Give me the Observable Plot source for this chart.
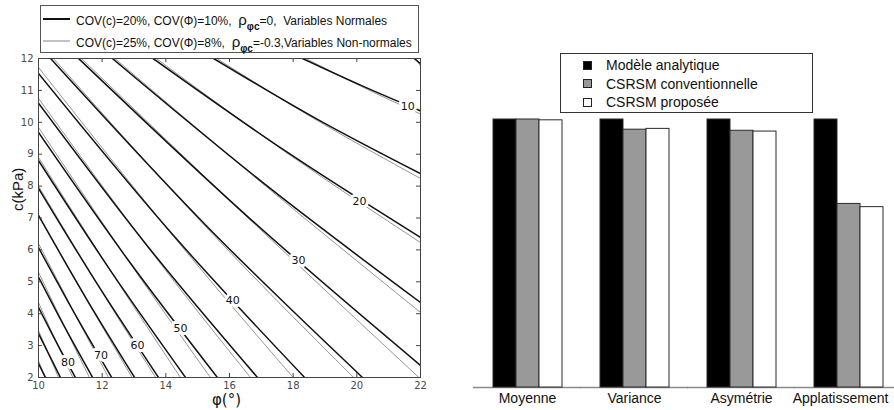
<!DOCTYPE html>
<html><head><meta charset="utf-8">
<script src="https://cdn.jsdelivr.net/npm/d3@7"></script>
<script src="https://cdn.jsdelivr.net/npm/@observablehq/plot@0.6"></script>
<style>
body{margin:0;background:#fff;}
#wrap{position:relative;width:894px;height:410px;overflow:hidden;background:#fff;font-family:"Liberation Sans",Arial,sans-serif;}
#left{position:absolute;left:0;top:0;}
#right{position:absolute;left:440px;top:0;}
.legL{position:absolute;left:40px;top:5px;width:377px;height:46px;border:1px solid #555;background:#fff;}
.legL .row{position:absolute;left:0;height:20px;display:flex;align-items:center;white-space:pre;font-size:12px;color:#111;}
.legL .samp{width:35px;height:20px;}
.rho{font-size:15px;}
.sub{font-size:10px;font-weight:bold;position:relative;top:5px;color:#111;}
.legR{position:absolute;left:560px;top:53px;width:251px;height:58px;border:1px solid #333;background:#fff;}
.legR .row{position:absolute;left:22px;height:18px;display:flex;align-items:center;font-size:14px;color:#111;white-space:pre;}
.legR .sw{width:7px;height:7px;border:1px solid #222;margin-right:14px;}
</style></head>
<body>
<div id="wrap">
  <div id="left"></div>
  <div id="right"></div>
  <div class="legL">
    <div class="row" style="top:3px"><svg class="samp"><line x1="2" x2="29" y1="10" y2="10" stroke="#111" stroke-width="2"/></svg><span>COV(c)=20%, COV(Φ)=10%,  <span class="rho">ρ</span><span class="sub">φc</span>=0,  Variables Normales</span></div>
    <div class="row" style="top:25px"><svg class="samp"><line x1="2" x2="29" y1="10" y2="10" stroke="#777" stroke-width="0.9"/></svg><span>COV(c)=25%, COV(Φ)=8%,  <span class="rho">ρ</span><span class="sub">φc</span>=-0.3,Variables Non-normales</span></div>
  </div>
  <div class="legR" id="legR"></div>
</div>
<script>
// ---------- Left panel data ----------
const phiTicks = [10, 12, 14, 16, 18, 20, 22];
const cTicks = [2, 3, 4, 5, 6, 7, 8, 9, 10, 11, 12];
const contourLevels = [5, 10, 15, 20, 25, 30, 35, 40, 45, 50, 55, 60, 65, 70, 75, 80, 85, 90];
// [phi, c] points (thick black: normal variables)
const normales = [
  [[21.8, 12], [22, 11.84]],
  [[18.29, 12], [20.15, 11.15], [22, 10.36]],
  [[15.5, 12], [18.75, 10.1], [22, 8.39]],
  [[13.6, 12], [17.8, 9.07], [22, 6.39]],
  [[12.32, 12], [17.16, 8.02], [22, 4.35]],
  [[11.26, 12], [16.63, 6.99], [22, 2.38]],
  [[10.38, 12], [15.28, 6.75], [20.18, 2]],
  [[10, 11.53], [14.18, 6.52], [18.36, 2]],
  [[10, 10.6], [13.44, 6.1], [16.88, 2]],
  [[10, 9.68], [12.81, 5.69], [15.62, 2]],
  [[10, 8.8], [12.31, 5.28], [14.62, 2]],
  [[10, 7.93], [11.885, 4.87], [13.77, 2]],
  [[10, 7.08], [11.51, 4.46], [13.02, 2]],
  [[10, 6.07], [11.15, 3.98], [12.3, 2]],
  [[10, 5.15], [10.85, 3.53], [11.7, 2]],
  [[10, 4.2], [10.58, 3.07], [11.16, 2]],
  [[10, 3.38], [10.69, 2]],
  [[10, 2.44], [10.22, 2]]
];
// thin grey: non-normal variables
const nonNormales = [
  [[21.85, 12], [22, 11.76]],
  [[18.4, 12], [20.15, 11.12], [22, 10.26]],
  [[15.6, 12], [18.75, 10.06], [22, 8.24]],
  [[13.7, 12], [17.8, 9.04], [22, 6.23]],
  [[12.4, 12], [17.16, 7.98], [22, 4.04]],
  [[11.35, 12], [16.63, 6.96], [21.95, 2]],
  [[10.47, 12], [15.28, 6.7], [19.9, 2]],
  [[10, 11.72], [14.18, 6.5], [18.0, 2]],
  [[10, 10.75], [13.44, 6.08], [16.66, 2]],
  [[10, 9.84], [12.81, 5.68], [15.4, 2]],
  [[10, 8.9], [12.31, 5.27], [14.46, 2]],
  [[10, 8.0], [11.885, 4.86], [13.68, 2]],
  [[10, 7.08], [11.51, 4.44], [12.94, 2]],
  [[10, 6.2], [11.15, 3.98], [12.2, 2]],
  [[10, 5.3], [10.85, 3.53], [11.6, 2]],
  [[10, 4.35], [10.58, 3.07], [11.08, 2]],
  [[10, 3.47], [10.63, 2]],
  [[10, 2.53], [10.2, 2]]
];
const labelLevels = [10, 20, 30, 40, 50, 60, 70, 80];
const labelPhi = [21.6, 20.08, 18.17, 16.1, 14.46, 13.11, 11.96, 10.93];
const labelC = [10.5, 7.53, 5.67, 4.4, 3.55, 3.0, 2.68, 2.46];

// ---------- Right panel data ----------
const categories = ["Moyenne", "Variance", "Asymétrie", "Applatissement"];
const seriesNames = ["Modèle analytique", "CSRSM conventionnelle", "CSRSM proposée"];
const modeleAnalytique = [1, 1, 1, 1];
const csrsmConventionnelle = [1.0, 0.962, 0.958, 0.685];
const csrsmProposee = [0.997, 0.965, 0.955, 0.673];
const seriesFill = ["#000000", "#999999", "#ffffff"];

// ---------- Left panel ----------
const toRows = (lines) => lines.flatMap((pts, i) => pts.map(([phi, c]) => ({level: contourLevels[i], phi, c})));
const rowsN = toRows(normales);
const rowsNN = toRows(nonNormales);
const labels = labelLevels.map((l, i) => ({level: l, phi: labelPhi[i], c: labelC[i]}));

const W1 = 440, H1 = 410, mL = 38, mR = 20, mT = 58, mB = 33;
const tickPx = 4;
const tkY = tickPx * (12 - 2) / (H1 - mT - mB);
const tkX = tickPx * (22 - 10) / (W1 - mL - mR);

const left = Plot.plot({
  width: W1, height: H1,
  marginLeft: mL, marginRight: mR, marginTop: mT, marginBottom: mB,
  style: {fontFamily: "DejaVu Sans, sans-serif", fontSize: "10px", color: "#4a4a4a", background: "white"},
  x: {domain: [10, 22], ticks: phiTicks, tickSize: 0, tickPadding: 4, label: null},
  y: {domain: [2, 12], ticks: cTicks, tickSize: 0, tickPadding: 5, label: null},
  marks: [
    Plot.line(rowsNN, {x: "phi", y: "c", z: "level", curve: "natural", stroke: "#8a8a8a", strokeWidth: 0.9, clip: true}),
    Plot.line(rowsN, {x: "phi", y: "c", z: "level", curve: "natural", stroke: "#111", strokeWidth: 1.5, clip: true}),
    Plot.text(labels, {x: "phi", y: "c", text: d => String(d.level), fontSize: 11, fill: "#111", stroke: "white", strokeWidth: 6, fontFamily: "DejaVu Sans, sans-serif"}),
    Plot.ruleX(phiTicks, {x: d => d, y1: 2, y2: 2 + tkY, stroke: "#444"}),
    Plot.ruleX(phiTicks, {x: d => d, y1: 12, y2: 12 - tkY, stroke: "#444"}),
    Plot.ruleY(cTicks, {y: d => d, x1: 10, x2: 10 + tkX, stroke: "#444"}),
    Plot.ruleY(cTicks, {y: d => d, x1: 22, x2: 22 - tkX, stroke: "#444"}),
    Plot.frame({stroke: "#444"}),
    Plot.text(["φ(°)"], {frameAnchor: "bottom", text: d => d, dy: 27, dx: -3, fontSize: 15, fill: "#111", fontFamily: "DejaVu Sans, sans-serif"}),
    Plot.text(["c(kPa)"], {frameAnchor: "left", text: d => d, dx: -20, dy: -7, rotate: -90, fontSize: 15, fill: "#111", fontFamily: "Liberation Sans, Arial, sans-serif"})
  ]
});
document.getElementById("left").appendChild(left);

// ---------- Right panel ----------
const barRows = categories.flatMap((cat, i) => [
  {cat, series: seriesNames[0], value: modeleAnalytique[i]},
  {cat, series: seriesNames[1], value: csrsmConventionnelle[i]},
  {cat, series: seriesNames[2], value: csrsmProposee[i]}
]);

const right = Plot.plot({
  width: 454, height: 410,
  marginLeft: 52, marginRight: 11, marginTop: 119, marginBottom: 23,
  style: {fontFamily: "Liberation Sans, Arial, sans-serif", fontSize: "14px", color: "#111", background: "white"},
  fx: {domain: categories, paddingInner: 0.346, paddingOuter: 0, label: null, axis: null},
  x: {domain: seriesNames, padding: 0, axis: null},
  y: {domain: [0, 1], axis: null},
  color: {domain: seriesNames, range: seriesFill},
  marks: [
    Plot.ruleY([0], {stroke: "#8a8a8a", strokeWidth: 1.5, insetLeft: -19, insetRight: -19}),
    Plot.barY(barRows, {fx: "cat", x: "series", y: "value", fill: "series", stroke: "#2a2a2a", strokeWidth: 1}),
    Plot.text(categories.slice(0, 3), {fx: d => d, text: d => d, frameAnchor: "bottom", lineAnchor: "top", dy: 6, fontSize: 14, fill: "#111"}),
    Plot.text(categories.slice(3), {fx: d => d, text: d => d, frameAnchor: "bottom", lineAnchor: "top", dy: 6, dx: -8, fontSize: 14, fill: "#111"})
  ]
});
document.getElementById("right").appendChild(right);

// right legend
const legR = document.getElementById("legR");
seriesNames.forEach((name, i) => {
  const row = document.createElement("div");
  row.className = "row";
  row.style.top = (2 + i * 18.5) + "px";
  const sw = document.createElement("div");
  sw.className = "sw";
  sw.style.background = seriesFill[i];
  row.appendChild(sw);
  const t = document.createElement("span");
  t.textContent = name;
  row.appendChild(t);
  legR.appendChild(row);
});
</script>
</body></html>
